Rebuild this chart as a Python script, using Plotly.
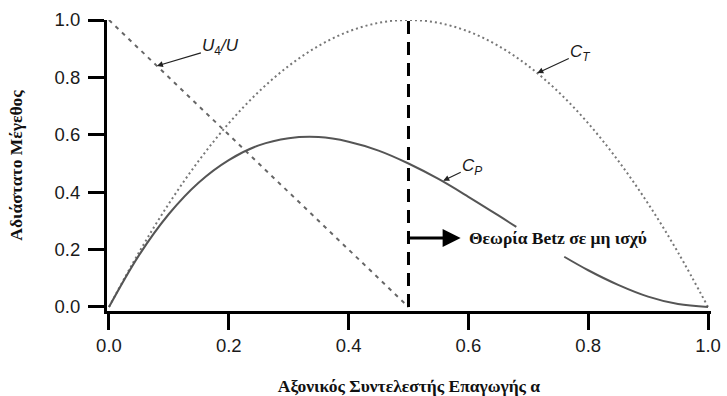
import plotly.graph_objects as go

# Axial induction factor a
a_cp = [0.0, 0.05, 0.1, 0.15, 0.2, 0.25, 0.3, 0.35, 0.4, 0.45, 0.5, 0.55, 0.6, 0.65, 0.68,
        None, 0.76, 0.8, 0.85, 0.9, 0.95, 1.0]
cp = [0.0, 0.18, 0.324, 0.434, 0.512, 0.563, 0.588, 0.592, 0.576, 0.545, 0.5, 0.446, 0.384,
      0.319, 0.279, None, 0.175, 0.128, 0.077, 0.036, 0.01, 0.0]

a_ct = [0.0, 0.05, 0.1, 0.15, 0.2, 0.25, 0.3, 0.35, 0.4, 0.45, 0.5, 0.55, 0.6, 0.65, 0.7,
        0.75, 0.8, 0.85, 0.9, 0.95, 1.0]
ct = [0.0, 0.19, 0.36, 0.51, 0.64, 0.75, 0.84, 0.91, 0.96, 0.99, 1.0, 0.99, 0.96, 0.91, 0.84,
      0.75, 0.64, 0.51, 0.36, 0.19, 0.0]

a_u = [0.0, 0.5]
u4u = [1.0, 0.0]

betz_x = [0.5, 0.5]
betz_y = [0.0, 1.0]

x_ticks = [0.0, 0.2, 0.4, 0.6, 0.8, 1.0]
y_ticks = [0.0, 0.2, 0.4, 0.6, 0.8, 1.0]
x_ticklabels = ["0.0", "0.2", "0.4", "0.6", "0.8", "1.0"]
y_ticklabels = ["0.0", "0.2", "0.4", "0.6", "0.8", "1.0"]

fig = go.Figure()
fig.add_trace(go.Scatter(x=a_ct, y=ct, mode="lines", line=dict(color="#777777", width=2, dash="2px,3px", shape="spline"),
                         hoverinfo="skip"))
fig.add_trace(go.Scatter(x=a_u, y=u4u, mode="lines", line=dict(color="#666666", width=2, dash="4px,5px"),
                         hoverinfo="skip"))
fig.add_trace(go.Scatter(x=a_cp, y=cp, mode="lines", connectgaps=False,
                         line=dict(color="#555555", width=2, shape="spline"), hoverinfo="skip"))
fig.add_trace(go.Scatter(x=betz_x, y=betz_y, mode="lines", line=dict(color="black", width=3, dash="13px,8px"),
                         hoverinfo="skip"))

lab_font = dict(family="Liberation Sans, Arial, sans-serif", size=17, color="#1a1a1a")
fig.add_annotation(x=0.08, y=0.84, xref="x", yref="y", text="<i>U</i><sub>4</sub><i>/U</i>",
                   showarrow=True, ax=64, ay=-19, arrowhead=2, arrowsize=1, arrowwidth=1.2,
                   arrowcolor="#222", font=lab_font)
fig.add_annotation(x=0.715, y=0.815, xref="x", yref="y", text="<i>C</i><sub><i>T</i></sub>",
                   showarrow=True, ax=43, ay=-20, arrowhead=2, arrowsize=1, arrowwidth=1.2,
                   arrowcolor="#222", font=lab_font)
fig.add_annotation(x=0.558, y=0.44, xref="x", yref="y", text="<i>C</i><sub><i>P</i></sub>",
                   showarrow=True, ax=29, ay=-14, arrowhead=2, arrowsize=1, arrowwidth=1.2,
                   arrowcolor="#222", font=lab_font)
# Betz arrow
fig.add_annotation(x=0.587, y=0.24, xref="x", yref="y", ax=0.5, ay=0.24, axref="x", ayref="y",
                   text="", showarrow=True, arrowhead=2, arrowsize=1.2, arrowwidth=3, arrowcolor="black")
fig.add_annotation(x=0.598, y=0.24, xref="x", yref="y", xanchor="left", yanchor="middle",
                   text="<b>Θεωρία Betz σε μη ισχύ</b>", showarrow=False,
                   font=dict(family="Liberation Serif, Times New Roman, serif", size=17.5, color="#111"))

axis_common = dict(showgrid=False, zeroline=False, showline=True, linecolor="black", linewidth=3,
                   ticks="outside", ticklen=16, tickwidth=3, tickcolor="black", mirror=False,
                   automargin=False,
                   tickfont=dict(family="Liberation Sans, Arial, sans-serif", size=18.5, color="#1a1a1a"))

fig.update_layout(
    width=727, height=396,
    margin=dict(l=107, r=16, t=20, b=85),
    plot_bgcolor="white", paper_bgcolor="white",
    showlegend=False,
    xaxis=dict(range=[-0.0033, 1.005], tickvals=x_ticks, ticktext=x_ticklabels,
               title=dict(text="<b>Αξονικός Συντελεστής Επαγωγής α</b>", standoff=26,
                          font=dict(family="Liberation Serif, Times New Roman, serif", size=17.5, color="#111")),
               **axis_common),
    yaxis=dict(range=[-0.014, 1.0], tickvals=y_ticks, ticktext=y_ticklabels, ticklabelstandoff=4,
               title=dict(text="<b>Αδιάστατο Μέγεθος</b>", standoff=28,
                          font=dict(family="Liberation Serif, Times New Roman, serif", size=17.5, color="#111")),
               **axis_common),
)

fig.write_html("out.html")
